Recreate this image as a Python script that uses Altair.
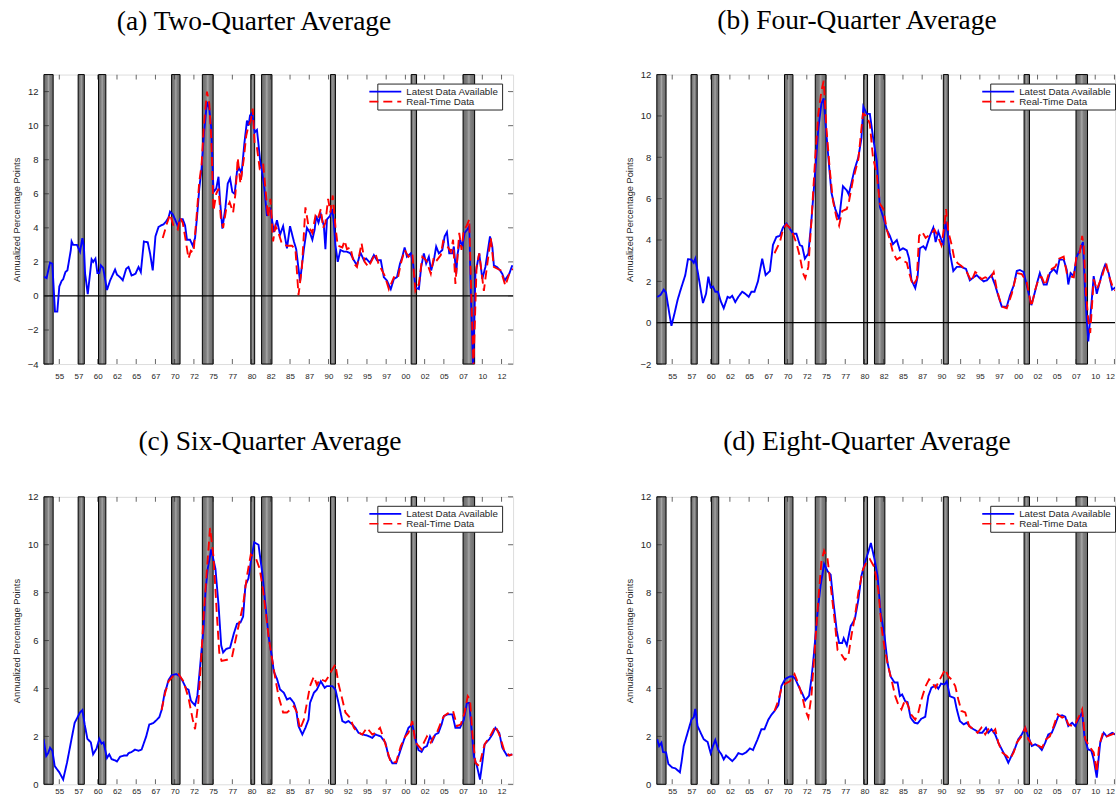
import json
import altair as alt
import pandas as pd

SANS = "Liberation Sans"
SERIF = "Liberation Serif"

X_START = 1953.0
X_END = 2014.0
TICK_YEARS = [1955.0, 1957.5, 1960.0, 1962.5, 1965.0, 1967.5, 1970.0, 1972.5, 1975.0, 1977.5,
              1980.0, 1982.5, 1985.0, 1987.5, 1990.0, 1992.5, 1995.0, 1997.5, 2000.0, 2002.5,
              2005.0, 2007.5, 2010.0, 2012.5]
TICK_LABELS = ["55", "57", "60", "62", "65", "67", "70", "72", "75", "77", "80", "82", "85", "87",
               "90", "92", "95", "97", "00", "02", "05", "07", "10", "12"]
REC_START = [1953.0, 1957.45, 1960.1, 1969.6, 1973.6, 1979.9, 1981.3, 1990.25, 2000.75, 2007.5]
REC_END = [1954.2, 1958.25, 1961.05, 1970.7, 1975.0, 1980.4, 1982.65, 1990.9, 2001.45, 2009.0]
SERIES = ["Latest Data Available", "Real-Time Data"]

# ---------------- (a) Two-quarter average ----------------
A_LAT_X = [1952.95, 1953.35, 1953.79, 1954.09, 1954.44, 1954.74, 1955.0, 1955.3, 1955.5, 1955.8,
           1956.05, 1956.5, 1956.6, 1956.8, 1957.3, 1957.5, 1957.7, 1958.0, 1958.2, 1958.35,
           1958.7, 1959.2, 1959.4, 1959.7, 1959.95, 1960.2, 1960.4, 1960.7, 1961.2, 1961.6,
           1962.0, 1962.25, 1962.5, 1962.9, 1963.25, 1963.7, 1964.0, 1964.4, 1964.9, 1965.3,
           1965.6, 1966.0, 1966.5, 1966.8, 1967.15, 1967.5, 1967.9, 1968.25, 1968.55, 1968.85,
           1969.2, 1969.4, 1969.75, 1970.05, 1970.4, 1970.7, 1971.05, 1971.35, 1971.6, 1972.0,
           1972.35, 1972.65, 1972.9, 1973.2, 1973.5, 1973.8, 1974.2, 1974.5, 1974.75, 1975.05,
           1975.4, 1975.7, 1975.9, 1976.2, 1976.6, 1976.9, 1977.2, 1977.5, 1977.8, 1978.1,
           1978.4, 1978.7, 1979.05, 1979.4, 1979.6, 1979.8, 1980.1, 1980.4, 1980.7, 1980.9,
           1981.1, 1981.6, 1982.0, 1982.4, 1982.9, 1983.3, 1983.7, 1984.1, 1984.6, 1985.0,
           1985.5, 1985.8, 1986.3, 1986.8, 1987.2, 1987.6, 1987.9, 1988.2, 1988.4, 1988.7,
           1989.0, 1989.4, 1989.6, 1989.8, 1990.2, 1990.5, 1990.7, 1990.9, 1991.2, 1991.55,
           1992.0, 1992.4, 1992.85, 1993.3, 1993.7, 1994.15, 1994.6, 1994.9, 1995.4, 1995.9,
           1996.3, 1996.8, 1997.2, 1997.6, 1998.1, 1998.5, 1998.9, 1999.3, 1999.6, 1999.9,
           2000.2, 2000.7, 2001.0, 2001.3, 2001.75, 2002.05, 2002.4, 2002.7, 2003.05, 2003.35,
           2003.7, 2004.0, 2004.35, 2004.8, 2005.1, 2005.4, 2005.7, 2006.1, 2006.3, 2006.6,
           2006.8, 2007.1, 2007.4, 2007.7, 2008.05, 2008.3, 2008.5, 2008.8, 2009.1, 2009.6,
           2010.0, 2010.4, 2011.0, 2011.3, 2011.5, 2011.9, 2012.3, 2012.6, 2012.9, 2013.5, 2013.9]
A_LAT_Y = [1.14, 1.05, 1.96, 1.9, -0.92, -0.92, 0.55, 0.88, 0.98, 1.41,
           1.5, 2.7, 3.2, 3.0, 3.0, 2.8, 2.6, 3.4, 2.9, 1.33,
           0.1, 2.15, 2.0, 2.2, 1.35, 1.35, 1.8, 1.65, 0.35, 0.9,
           1.3, 1.55, 1.25, 1.1, 0.92, 1.6, 1.7, 1.2, 1.3, 1.7,
           1.4, 3.2, 3.15, 2.5, 1.5, 3.5, 4.05, 4.15, 4.2, 4.35,
           4.6, 4.95, 4.8, 4.5, 4.1, 4.5, 4.5, 4.15, 3.3, 3.3,
           2.95, 3.4, 4.6, 6.3, 7.5, 9.5, 11.4, 11.0, 9.9, 6.1,
           6.3, 7.0, 5.6, 3.95, 5.2, 6.6, 6.9, 6.1, 6.0, 7.3,
           7.5, 7.2, 8.9, 10.3, 10.0, 10.6, 10.75, 9.6, 9.75, 8.9,
           8.0, 6.6, 4.7, 5.2, 3.75, 4.45, 3.6, 4.1, 2.8, 4.1,
           3.2, 2.75, 0.85, 2.75, 4.0, 3.7, 3.3, 3.9, 4.7, 4.3,
           4.8, 4.1, 2.75, 4.5, 4.7, 5.1, 4.3, 3.0, 2.0, 2.7,
           2.6, 2.6, 2.5, 2.1, 1.8, 2.55, 2.1, 2.2, 1.95, 2.4,
           2.1, 2.1, 1.1, 0.9, 0.4, 1.0, 1.1, 1.9, 2.3, 2.85,
           2.3, 2.5, 1.9, 0.5, 0.4, 1.7, 2.5, 1.9, 2.3, 1.5,
           2.1, 2.9, 2.5, 2.7, 3.5, 3.75, 2.5, 2.5, 2.9, 1.3,
           2.5, 3.3, 2.9, 3.7, 3.9, 4.1, 0.2, -4.2, 1.3, 2.5,
           1.0, 1.7, 3.5, 2.9, 1.8, 1.7, 1.5, 1.3, 0.9, 1.3, 1.8]
A_RT_X = [1968.45, 1968.95, 1969.4, 1969.85, 1970.4, 1970.7, 1971.05, 1971.35, 1971.8, 1972.1,
          1972.45, 1972.8, 1973.2, 1973.5, 1973.8, 1974.2, 1974.5, 1974.75, 1975.05, 1975.4,
          1975.7, 1976.0, 1976.3, 1976.7, 1977.15, 1977.6, 1977.9, 1978.2, 1978.55, 1979.0,
          1979.3, 1979.6, 1979.9, 1980.15, 1980.4, 1980.7, 1981.05, 1981.5, 1981.8, 1982.15,
          1982.45, 1982.8, 1983.1, 1983.5, 1983.95, 1984.6, 1985.25, 1985.7, 1986.1, 1986.55,
          1987.0, 1987.4, 1987.9, 1988.3, 1988.6, 1989.0, 1989.3, 1989.6, 1989.95, 1990.25,
          1990.55, 1990.9, 1991.2, 1991.8, 1992.1, 1992.4, 1992.85, 1993.3, 1993.7, 1994.3,
          1994.7, 1995.2, 1996.1, 1996.5, 1997.3, 1997.85, 1998.5, 1999.0, 1999.4, 1999.9,
          2000.4, 2000.9, 2001.3, 2001.75, 2002.2, 2002.7, 2003.3, 2003.7, 2004.1, 2004.6,
          2004.9, 2005.4, 2005.9, 2006.2, 2006.5, 2007.0, 2007.3, 2007.6, 2007.95, 2008.3,
          2008.6, 2008.85, 2009.25, 2009.6, 2010.2, 2010.6, 2011.1, 2011.5, 2012.4, 2013.0,
          2013.5, 2014.0]
A_RT_Y = [3.4, 4.2, 4.8, 4.1, 3.9, 4.6, 4.3, 3.5, 2.2, 2.65,
          2.55, 4.4, 6.7, 7.7, 10.0, 12.0, 11.3, 9.35, 5.0, 6.0,
          6.3, 4.6, 4.0, 5.1, 5.5, 4.9, 6.0, 8.1, 6.6, 8.1,
          9.4, 10.0, 10.3, 11.0, 8.9, 8.7, 7.5, 7.8, 6.3, 4.6,
          5.7, 3.2, 4.1, 3.7, 3.05, 2.95, 2.95, 2.75, 0.05, 1.7,
          5.2, 4.1, 3.7, 4.7, 4.5, 5.1, 4.0, 4.3, 5.7, 4.9,
          5.9, 4.1, 2.95, 2.85, 3.25, 2.75, 2.85, 1.9, 1.7, 3.1,
          2.0, 1.7, 2.5, 1.9, 1.2, 0.4, 1.1, 1.0, 1.9, 2.7,
          2.3, 2.5, 0.3, 0.7, 2.3, 2.1, 1.3, 2.3, 2.1, 2.4,
          3.2, 2.95, 2.6, 3.3, 0.7, 3.7, 2.7, 3.9, 4.1, 4.5,
          -0.5, -4.2, 1.7, 2.5, 0.3, 1.7, 3.4, 1.7, 1.5, 0.6,
          1.3, 1.6]

# ---------------- (b) Four-quarter average ----------------
B_LAT_X = [1953.05, 1953.5, 1953.9, 1954.2, 1954.6, 1954.9, 1955.3, 1955.7, 1956.1, 1956.7,
           1957.05, 1957.5, 1957.8, 1958.0, 1958.35, 1958.7, 1959.0, 1959.4, 1959.7, 1960.0,
           1960.3, 1960.6, 1960.95, 1961.3, 1961.7, 1962.2, 1962.5, 1962.8, 1963.2, 1963.6,
           1964.1, 1964.5, 1964.95, 1965.3, 1965.7, 1966.15, 1966.7, 1967.15, 1967.7, 1968.1,
           1968.55, 1969.0, 1969.4, 1969.85, 1970.3, 1970.7, 1971.15, 1971.6, 1971.9, 1972.25,
           1972.7, 1973.1, 1973.6, 1974.0, 1974.4, 1974.7, 1974.9, 1975.3, 1975.7, 1976.2,
           1976.7, 1977.2, 1977.7, 1977.95, 1978.3, 1978.7, 1979.2, 1979.6, 1979.85, 1980.3,
           1980.7, 1981.1, 1981.6, 1982.0, 1982.45, 1982.9, 1983.3, 1983.7, 1984.2, 1984.6,
           1985.0, 1985.5, 1985.8, 1986.1, 1986.6, 1986.9, 1987.2, 1987.65, 1987.95, 1988.5,
           1988.95, 1989.25, 1989.6, 1990.0, 1990.25, 1990.55, 1990.8, 1991.1, 1991.55, 1992.0,
           1992.6, 1993.2, 1993.7, 1994.2, 1994.6, 1995.0, 1995.5, 1995.9, 1996.5, 1997.0,
           1997.4, 1997.85, 1998.5, 1998.9, 1999.4, 1999.8, 2000.2, 2000.7, 2001.1, 2001.7,
           2002.1, 2002.5, 2002.8, 2003.3, 2003.7, 2004.1, 2004.6, 2005.0, 2005.35, 2005.9,
           2006.3, 2006.5, 2006.8, 2007.2, 2007.6, 2008.0, 2008.4, 2008.7, 2008.9, 2009.1,
           2009.55, 2009.8, 2010.2, 2010.9, 2011.3, 2011.75, 2012.2, 2012.6, 2013.0, 2013.5, 2013.9]
B_LAT_Y = [1.24, 1.35, 1.6, 1.45, 0.5, -0.15, 0.45, 1.1, 1.6, 2.3,
           3.07, 3.05, 2.9, 3.1, 2.4, 1.6, 0.95, 1.4, 2.23, 1.7,
           1.75, 1.5, 1.5, 1.05, 0.7, 1.25, 1.2, 1.3, 1.0, 1.25,
           1.5, 1.4, 1.25, 1.5, 1.5, 2.0, 3.1, 2.3, 2.5, 3.76,
           4.15, 4.2, 4.6, 4.8, 4.55, 4.3, 4.3, 3.75, 3.7, 3.1,
           3.35, 4.95, 7.35, 9.4, 10.6, 10.85, 9.8, 8.0, 6.3, 5.5,
           5.0, 6.6, 6.4, 6.2, 6.75, 7.4, 8.0, 8.9, 10.45, 10.1,
           10.1, 9.0, 7.8, 5.6, 5.1, 4.5, 4.2, 3.8, 4.0, 3.5,
           3.6, 3.5, 3.1, 2.07, 1.67, 2.2, 3.6, 3.7, 3.55, 4.2,
           4.6, 3.9, 4.4, 4.0, 3.75, 4.9, 4.4, 3.4, 2.5, 2.7,
           2.7, 2.6, 2.05, 2.2, 2.3, 2.15, 2.0, 2.05, 2.3, 1.8,
           1.3, 0.78, 0.78, 1.3, 1.8, 2.5, 2.55, 2.45, 1.8, 0.85,
           1.4, 2.0, 2.4, 1.85, 1.85, 2.4, 2.6, 2.4, 3.05, 3.05,
           2.55, 1.85, 2.4, 2.25, 3.2, 3.5, 3.9, 1.4, 0.14, -0.9,
           1.1, 2.25, 1.4, 2.4, 2.8, 2.4, 1.6, 1.7, 1.5, 1.5, 1.6]
B_RT_X = [1968.3, 1969.0, 1969.4, 1969.85, 1970.4, 1970.7, 1971.15, 1971.6, 1972.0, 1972.3,
          1972.7, 1973.1, 1973.6, 1974.0, 1974.4, 1974.7, 1975.05, 1975.5, 1975.9, 1976.35,
          1976.7, 1977.1, 1977.7, 1978.0, 1978.5, 1979.2, 1979.8, 1980.3, 1980.7, 1981.1,
          1981.6, 1982.0, 1982.45, 1982.9, 1983.3, 1983.7, 1984.2, 1984.6, 1985.0, 1985.5,
          1985.9, 1986.3, 1986.8, 1987.1, 1987.5, 1987.95, 1988.3, 1988.7, 1989.1, 1989.5,
          1990.0, 1990.4, 1990.6, 1990.9, 1991.35, 1991.7, 1992.2, 1992.6, 1993.3, 1993.9,
          1994.4, 1994.8, 1995.2, 1995.7, 1996.3, 1996.8, 1997.2, 1997.85, 1998.5, 1999.15,
          1999.8, 2000.45, 2001.1, 2001.7, 2002.2, 2002.7, 2003.05, 2003.5, 2003.9, 2004.35,
          2004.8, 2005.3, 2005.9, 2006.3, 2006.7, 2007.2, 2007.6, 2008.0, 2008.3, 2008.5,
          2008.8, 2009.1, 2009.35, 2009.8, 2010.2, 2010.9, 2011.4, 2011.8, 2012.4, 2013.0, 2013.9]
B_RT_Y = [3.36, 3.9, 4.5, 4.75, 4.55, 4.3, 3.85, 3.2, 2.4, 2.15,
          2.7, 4.9, 8.0, 10.1, 11.2, 11.7, 9.4, 7.35, 5.9, 5.1,
          4.7, 5.4, 5.5, 5.9, 6.9, 7.9, 10.1, 10.0, 9.6, 8.0,
          7.2, 5.75, 5.5, 4.5, 4.0, 3.4, 3.05, 3.15, 3.0, 2.9,
          2.3, 1.8, 2.1, 4.2, 4.4, 4.1, 4.2, 4.3, 4.5, 4.2,
          3.75, 4.7, 5.5, 4.4, 3.75, 3.05, 2.85, 2.75, 2.45, 2.0,
          2.45, 2.35, 2.1, 2.2, 2.1, 2.45, 1.6, 0.78, 0.7, 1.4,
          2.4, 2.35, 1.95, 0.78, 1.6, 2.2, 2.2, 1.8, 2.3, 2.6,
          2.7, 3.1, 3.2, 2.4, 2.25, 2.2, 3.3, 3.4, 4.2, 3.75,
          1.4, 0.15, -0.5, 2.1, 1.6, 2.25, 2.9, 2.25, 1.6, 1.5, 1.6]

# ---------------- (c) Six-quarter average ----------------
C_LAT_X = [1952.95, 1953.3, 1953.55, 1953.8, 1954.1, 1954.4, 1955.0, 1955.5, 1956.0, 1956.5,
           1957.0, 1957.7, 1958.0, 1958.3, 1958.65, 1959.1, 1959.4, 1959.85, 1960.2, 1960.5,
           1960.75, 1961.2, 1961.5, 1961.8, 1962.25, 1962.5, 1962.9, 1963.4, 1963.8, 1964.0,
           1964.4, 1964.85, 1965.3, 1965.7, 1966.3, 1966.7, 1967.2, 1967.7, 1968.0, 1968.3,
           1968.75, 1968.9, 1969.2, 1969.6, 1970.2, 1970.7, 1971.05, 1971.5, 1971.8, 1972.1,
           1972.35, 1972.65, 1972.95, 1973.3, 1973.75, 1974.0, 1974.3, 1974.75, 1975.3, 1975.7,
           1976.05, 1976.3, 1976.7, 1977.2, 1977.7, 1978.1, 1978.55, 1978.9, 1979.2, 1979.6,
           1979.9, 1980.35, 1980.9, 1981.4, 1981.8, 1982.2, 1982.6, 1982.9, 1983.3, 1983.7,
           1984.2, 1984.6, 1985.0, 1985.5, 1985.8, 1986.1, 1986.6, 1987.0, 1987.4, 1987.6,
           1988.1, 1988.5, 1989.0, 1989.5, 1989.8, 1990.5, 1990.9, 1991.3, 1991.8, 1992.2,
           1992.6, 1993.1, 1993.5, 1993.9, 1994.4, 1995.0, 1995.7, 1996.1, 1996.8, 1997.4,
           1997.8, 1998.3, 1998.8, 1999.4, 1999.9, 2000.4, 2000.9, 2001.3, 2001.7, 2002.1,
           2002.4, 2002.8, 2003.2, 2003.5, 2003.9, 2004.3, 2004.7, 2005.0, 2005.5, 2006.1,
           2006.5, 2007.1, 2007.6, 2008.0, 2008.3, 2008.6, 2008.9, 2009.3, 2009.7, 2010.0,
           2010.3, 2010.9, 2011.3, 2011.7, 2012.2, 2012.6, 2013.2, 2013.9]
C_LAT_Y = [1.88, 1.18, 1.3, 1.53, 1.4, 0.76, 0.5, 0.2, 0.9, 1.74,
           2.57, 3.0, 3.1, 2.5, 1.9, 1.75, 1.25, 1.5, 1.9, 1.7,
           1.75, 1.1, 1.25, 1.05, 1.0, 0.95, 1.15, 1.2, 1.2, 1.3,
           1.35, 1.45, 1.4, 1.45, 2.0, 2.5, 2.55, 2.7, 2.8, 3.1,
           3.9, 4.0, 4.35, 4.55, 4.6, 4.5, 4.3, 4.0, 3.95, 3.5,
           3.4, 3.3, 3.7, 4.9, 6.5, 8.0, 9.0, 9.8, 9.0, 7.5,
           5.8, 5.5, 5.65, 5.7, 6.3, 6.7, 6.75, 7.0, 8.3, 8.6,
           9.3, 10.1, 10.0, 8.8, 7.5, 6.2, 5.4, 4.7, 4.4, 3.96,
           3.82, 3.54, 3.6, 3.4, 3.1, 2.43, 2.08, 2.36, 2.7, 3.4,
           3.82, 3.96, 4.3, 4.03, 4.1, 4.1, 3.96, 3.4, 2.64, 2.57,
           2.64, 2.5, 2.36, 2.15, 2.08, 2.04, 1.94, 2.08, 2.0, 1.74,
           1.18, 0.88, 0.88, 1.46, 1.94, 2.36, 2.5, 1.88, 1.43, 1.35,
           1.53, 1.6, 2.0, 1.8, 2.08, 2.15, 2.5, 2.85, 2.92, 2.92,
           2.36, 2.36, 2.7, 3.4, 3.4, 2.3, 1.18, 0.76, 0.2, 0.9,
           1.67, 1.88, 2.08, 2.36, 2.15, 1.53, 1.2, 1.25]
C_RT_X = [1968.3, 1968.75, 1969.2, 1969.75, 1970.5, 1971.15, 1971.8, 1972.35, 1972.65, 1973.1,
          1973.4, 1973.8, 1974.2, 1974.6, 1975.05, 1975.5, 1975.8, 1976.1, 1976.8, 1977.45,
          1977.9, 1978.3, 1978.9, 1979.4, 1979.9, 1980.6, 1981.05, 1981.5, 1981.8, 1982.2,
          1982.6, 1983.1, 1983.5, 1984.1, 1984.6, 1985.0, 1985.5, 1985.9, 1986.3, 1986.8,
          1987.2, 1987.6, 1988.1, 1988.5, 1988.9, 1989.6, 1990.0, 1990.5, 1990.9, 1991.3,
          1991.8, 1992.2, 1992.8, 1993.3, 1993.7, 1994.4, 1995.0, 1995.7, 1996.1, 1996.7,
          1997.2, 1997.6, 1998.1, 1998.8, 1999.4, 2000.0, 2000.4, 2000.9, 2001.3, 2001.7,
          2002.1, 2002.4, 2002.8, 2003.3, 2003.7, 2004.1, 2004.6, 2005.0, 2005.7, 2006.2,
          2006.7, 2007.2, 2007.7, 2008.1, 2008.4, 2008.7, 2009.1, 2009.6, 2010.0, 2010.3,
          2011.0, 2011.7, 2012.3, 2012.8, 2013.5, 2013.9]
C_RT_Y = [3.1, 3.8, 4.3, 4.5, 4.6, 4.3, 3.6, 2.7, 2.3, 3.5,
          5.0, 7.2, 9.0, 10.7, 9.5, 7.0, 5.5, 5.15, 5.2, 5.3,
          6.0, 6.6, 7.5, 8.7, 9.6, 9.4, 9.0, 8.1, 7.3, 6.2,
          5.35, 4.4, 3.68, 3.0, 3.0, 3.1, 3.26, 3.0, 2.3, 2.7,
          3.4, 4.1, 4.5, 4.15, 4.4, 4.3, 4.5, 4.8, 5.0, 4.2,
          3.54, 3.0, 2.78, 2.36, 2.2, 2.08, 2.36, 2.08, 2.15, 2.36,
          1.88, 1.46, 0.9, 0.93, 1.6, 2.0, 2.15, 2.64, 1.74, 1.6,
          1.46, 1.74, 2.0, 1.74, 2.0, 2.15, 2.57, 2.85, 3.0, 3.06,
          2.43, 2.5, 3.0, 3.68, 3.54, 2.15, 0.9, 0.76, 1.3, 1.67,
          2.0, 2.43, 2.0, 1.46, 1.2, 1.25]

# ---------------- (d) Eight-quarter average ----------------
D_LAT_X = [1953.05, 1953.3, 1953.6, 1953.8, 1954.2, 1954.5, 1955.0, 1955.4, 1956.0, 1956.2,
           1956.5, 1957.0, 1957.5, 1957.8, 1958.0, 1958.3, 1958.7, 1959.1, 1959.6, 1960.0,
           1960.3, 1960.6, 1961.0, 1961.4, 1961.7, 1962.0, 1962.5, 1962.8, 1963.2, 1963.6,
           1964.1, 1964.6, 1965.1, 1965.5, 1966.1, 1966.6, 1967.0, 1967.5, 1967.9, 1968.3,
           1968.8, 1969.2, 1969.7, 1970.3, 1970.7, 1971.0, 1971.5, 1971.9, 1972.3, 1972.8,
           1973.1, 1973.4, 1973.9, 1974.3, 1974.75, 1975.2, 1975.6, 1976.0, 1976.4, 1976.7,
           1977.1, 1977.3, 1977.7, 1978.2, 1978.75, 1979.2, 1979.6, 1980.05, 1980.5, 1980.83,
           1981.3, 1981.7, 1982.1, 1982.6, 1983.0, 1983.4, 1983.9, 1984.3, 1984.6, 1984.9,
           1985.3, 1985.6, 1986.0, 1986.5, 1986.9, 1987.4, 1987.9, 1988.3, 1988.7, 1989.25,
           1989.6, 1989.95, 1990.4, 1990.7, 1991.1, 1991.7, 1992.0, 1992.4, 1992.9, 1993.3,
           1993.85, 1994.4, 1994.9, 1995.3, 1995.8, 1996.1, 1996.5, 1997.0, 1997.4, 1997.85,
           1998.3, 1998.7, 1999.1, 1999.6, 2000.0, 2000.45, 2000.9, 2001.3, 2001.75, 2002.2,
           2002.6, 2003.05, 2003.5, 2003.9, 2004.35, 2004.8, 2005.2, 2005.7, 2006.1, 2006.5,
           2007.0, 2007.4, 2007.8, 2008.3, 2008.6, 2009.05, 2009.5, 2009.8, 2010.2, 2010.65,
           2011.1, 2011.5, 2012.2, 2012.6, 2013.2, 2013.9]
D_LAT_Y = [1.88, 1.6, 1.74, 1.35, 1.33, 0.85, 0.7, 0.67, 0.5, 0.9,
           1.6, 2.15, 2.7, 2.8, 3.15, 2.43, 2.15, 1.88, 1.77, 1.3,
           1.6, 1.85, 1.43, 1.25, 1.04, 1.2, 1.06, 0.97, 1.1, 1.3,
           1.25, 1.33, 1.5, 1.43, 1.88, 2.3, 2.3, 2.7, 2.9, 3.06,
           3.3, 4.1, 4.4, 4.5, 4.5, 4.4, 4.05, 3.8, 3.5, 3.7,
           4.4, 5.35, 7.2, 8.3, 9.2, 8.9, 8.75, 7.5, 6.4, 5.9,
           5.9, 6.1, 5.8, 6.6, 6.9, 7.7, 8.7, 9.25, 9.7, 10.07,
           9.4, 8.7, 7.15, 6.2, 5.07, 4.5, 4.25, 4.25, 3.68, 3.75,
           3.47, 3.43, 2.78, 2.57, 2.54, 2.74, 2.82, 3.68, 4.03, 4.13,
           3.99, 4.2, 4.17, 4.3, 3.68, 3.6, 3.13, 2.64, 2.5, 2.57,
           2.36, 2.26, 2.15, 2.15, 2.36, 2.15, 2.3, 2.08, 1.74, 1.46,
           1.18, 0.9, 1.18, 1.53, 1.88, 2.08, 2.36, 2.0, 1.6, 1.67,
           1.6, 1.43, 1.74, 2.08, 2.15, 2.5, 2.85, 2.88, 2.82, 2.43,
           2.57, 2.43, 2.7, 3.0, 2.0, 1.46, 1.4, 1.04, 0.28, 1.74,
           2.15, 2.0, 2.15, 2.08, 2.0, 1.8]
D_RT_X = [1968.3, 1968.8, 1969.2, 1969.7, 1970.3, 1970.9, 1971.4, 1971.9, 1972.3, 1972.7,
          1973.1, 1973.5, 1974.0, 1974.4, 1974.75, 1975.2, 1975.6, 1976.1, 1976.5, 1976.95,
          1977.45, 1977.9, 1978.3, 1978.75, 1979.2, 1979.8, 1980.3, 1980.7, 1981.3, 1981.8,
          1982.2, 1982.65, 1983.1, 1983.5, 1984.0, 1984.4, 1984.8, 1985.3, 1985.7, 1986.1,
          1986.6, 1987.0, 1987.4, 1987.95, 1988.4, 1988.8, 1989.25, 1989.8, 1990.5, 1990.9,
          1991.3, 1991.8, 1992.2, 1992.6, 1993.1, 1993.6, 1994.2, 1994.7, 1995.2, 1995.7,
          1996.1, 1996.6, 1997.0, 1997.4, 1997.9, 1998.5, 1998.9, 1999.4, 1999.8, 2000.4,
          2000.9, 2001.3, 2001.75, 2002.2, 2002.7, 2003.1, 2003.6, 2004.1, 2004.6, 2005.1,
          2005.7, 2006.1, 2006.5, 2007.05, 2007.5, 2007.9, 2008.3, 2008.7, 2009.2, 2009.8,
          2010.2, 2010.5, 2011.0, 2011.5, 2012.2, 2012.6, 2013.2, 2013.9]
D_RT_Y = [3.06, 3.5, 4.0, 4.2, 4.3, 4.6, 4.2, 3.68, 3.1, 2.78,
          3.68, 5.5, 7.7, 9.3, 9.75, 9.4, 8.3, 6.9, 5.6, 5.45,
          5.2, 5.35, 6.2, 7.0, 8.0, 8.96, 9.3, 9.4, 9.05, 8.1,
          6.6, 5.6, 4.9, 4.38, 3.68, 3.33, 3.13, 3.54, 3.26, 2.9,
          2.7, 3.0, 3.54, 4.1, 4.38, 4.25, 4.03, 4.38, 4.8, 4.5,
          4.38, 4.1, 3.54, 3.06, 3.0, 2.43, 2.3, 2.15, 2.36, 2.08,
          2.3, 2.15, 2.3, 1.74, 1.33, 1.18, 1.04, 1.33, 1.74, 2.0,
          2.36, 1.88, 1.67, 1.67, 1.6, 1.53, 1.88, 2.0, 2.43, 2.92,
          2.78, 2.85, 2.5, 2.43, 2.57, 2.85, 3.13, 1.88, 1.6, 1.33,
          0.5, 1.6, 2.15, 2.0, 2.08, 2.15, 2.0, 1.8]

FULL_W = 470        # full plot width of a panel
CUT_W = 459         # right-hand panels are cut by the page edge, as in the original
LABEL_EXPR = f"{json.dumps(TICK_LABELS)}[indexof({json.dumps(TICK_YEARS)}, datum.value)]"

BAR_FILL = alt.Gradient(
    gradient="linear", x1=0, x2=1, y1=0, y2=0,
    stops=[alt.GradientStop(color="#6c6c6c", offset=0.0),
           alt.GradientStop(color="#808080", offset=0.35),
           alt.GradientStop(color="#a6a6a6", offset=0.5),
           alt.GradientStop(color="#808080", offset=0.65),
           alt.GradientStop(color="#6c6c6c", offset=1.0)])


def make_panel(title, dx, offset, ydom, yticks, height, lat_x, lat_y, rt_x, rt_y,
               zero_line, width, xlabel_pad):
    x_end = X_START + (X_END - X_START) * width / FULL_W
    xs = alt.Scale(domain=[X_START, x_end], nice=False, zero=False)
    ys = alt.Scale(domain=ydom, nice=False, zero=False)
    cut = width < FULL_W
    xaxis_kw = dict(values=TICK_YEARS, labelExpr=LABEL_EXPR, title=None, ticks=False,
                    domain=False, grid=False, labelPadding=xlabel_pad, labelFontSize=8,
                    labelFont=SANS, labelColor="#262626", labelOverlap=False, labelFlush=False)
    if cut:
        xaxis_kw["labelAlign"] = alt.ExprRef(expr="datum.value > 2012 ? 'right' : 'center'")
    xaxis = alt.Axis(**xaxis_kw)
    yaxis = alt.Axis(values=yticks, title="Annualized Percentage Points", ticks=False,
                     domain=False, grid=False, labelPadding=6, labelFontSize=9.5,
                     labelFont=SANS, labelColor="#262626", titleFont=SANS, titleFontSize=9.3,
                     titleFontWeight="normal", titleColor="#262626", titleX=-22,
                     titleY=height / 2, titleAngle=270, titleBaseline="bottom",
                     labelOverlap=False, labelFlush=False)

    rec = pd.DataFrame({"start": REC_START, "end": REC_END})
    bars = alt.Chart(rec).mark_rect(fill=BAR_FILL, stroke="black", strokeWidth=1).encode(
        x=alt.X("start:Q", scale=xs, axis=xaxis), x2="end:Q")

    df = pd.concat([
        pd.DataFrame({"year": lat_x, "value": lat_y, "series": SERIES[0]}),
        pd.DataFrame({"year": rt_x, "value": rt_y, "series": SERIES[1]}),
    ], ignore_index=True)

    leg = alt.Legend(title=None, orient="none", legendX=334, legendY=9,
                     fillColor="white", strokeColor="#262626", padding=3, rowPadding=0,
                     labelFont=SANS, labelFontSize=9.8, labelColor="#262626", labelOffset=16,
                     symbolType="M-4,0L4,0", symbolSize=64, symbolStrokeWidth=1.7)
    lines = alt.Chart(df).mark_line(strokeWidth=1.9, clip=True).encode(
        x=alt.X("year:Q", scale=xs, axis=xaxis),
        y=alt.Y("value:Q", scale=ys, axis=yaxis),
        color=alt.Color("series:N", scale=alt.Scale(domain=SERIES, range=["#0000ff", "#ff0000"]),
                        legend=leg),
        strokeDash=alt.StrokeDash("series:N",
                                  scale=alt.Scale(domain=SERIES, range=[[1, 0], [9, 5]]),
                                  legend=leg),
    )

    tx = pd.DataFrame({"t": TICK_YEARS})
    ty = pd.DataFrame({"v": yticks})
    tick_top = alt.Chart(tx).mark_tick(orient="vertical", color="#262626", size=5, thickness=1,
                                       yOffset=2.5, clip=True).encode(
        x=alt.X("t:Q", scale=xs, axis=xaxis), y=alt.value(0))
    tick_bot = alt.Chart(tx).mark_tick(orient="vertical", color="#262626", size=5, thickness=1,
                                       yOffset=-2.5, clip=True).encode(
        x=alt.X("t:Q", scale=xs, axis=xaxis), y=alt.value(height))
    tick_l = alt.Chart(ty).mark_tick(orient="horizontal", color="#262626", size=5, thickness=1,
                                     xOffset=2.5).encode(
        y=alt.Y("v:Q", scale=ys, axis=yaxis), x=alt.value(0))

    layers = [bars]
    if zero_line:
        zero = alt.Chart(pd.DataFrame({"v": [0]})).mark_rule(color="black", strokeWidth=1.2).encode(
            y=alt.Y("v:Q", scale=ys, axis=yaxis))
        layers.append(zero)
    layers += [lines, tick_top, tick_bot, tick_l]
    if not cut:
        tick_r = alt.Chart(ty).mark_tick(orient="horizontal", color="#262626", size=5,
                                         thickness=1, xOffset=-2.5).encode(
            y=alt.Y("v:Q", scale=ys, axis=yaxis), x=alt.value(width))
        layers.append(tick_r)

    return alt.layer(*layers).properties(
        width=width, height=height,
        title=alt.TitleParams(text=title, font=SERIF, fontSize=27.5, fontWeight="normal",
                              color="black", anchor="middle", frame="group", dx=dx,
                              offset=offset, baseline="alphabetic"),
    )


# the cut panels are narrower, so their centre moves left by (FULL_W - CUT_W) / 2
SHIFT = (FULL_W - CUT_W) / 2
pa = make_panel("(a) Two-Quarter Average", -24.5, 17, [-4, 13],
                [-4, -2, 0, 2, 4, 6, 8, 10, 12], 290, A_LAT_X, A_LAT_Y, A_RT_X, A_RT_Y,
                True, FULL_W, 8)
pb = make_panel("(b) Four-Quarter Average", -34.5 + SHIFT, 13, [-2, 12],
                [-2, 0, 2, 4, 6, 8, 10, 12], 290, B_LAT_X, B_LAT_Y, B_RT_X, B_RT_Y,
                True, CUT_W, 8)
pc = make_panel("(c) Six-Quarter Average", -8.5, 14, [0, 12],
                [0, 2, 4, 6, 8, 10, 12], 288, C_LAT_X, C_LAT_Y, C_RT_X, C_RT_Y,
                False, FULL_W, 3)
pd_ = make_panel("(d) Eight-Quarter Average", -24.5 + SHIFT, 14, [0, 12],
                 [0, 2, 4, 6, 8, 10, 12], 288, D_LAT_X, D_LAT_Y, D_RT_X, D_RT_Y,
                 False, CUT_W, 3)

chart = alt.concat(pa, pb, pc, pd_, columns=2, spacing={"row": 133, "column": 144},
                   bounds="flush").resolve_scale(
    x="independent", y="independent", color="independent", strokeDash="independent"
).resolve_legend(color="independent", strokeDash="independent").properties(
    padding={"left": 12, "top": 6, "right": 0, "bottom": 0}
).configure_view(stroke="black", strokeWidth=1).configure(background="white")

chart.save("out.html", embed_options={"renderer": "svg", "actions": False})
